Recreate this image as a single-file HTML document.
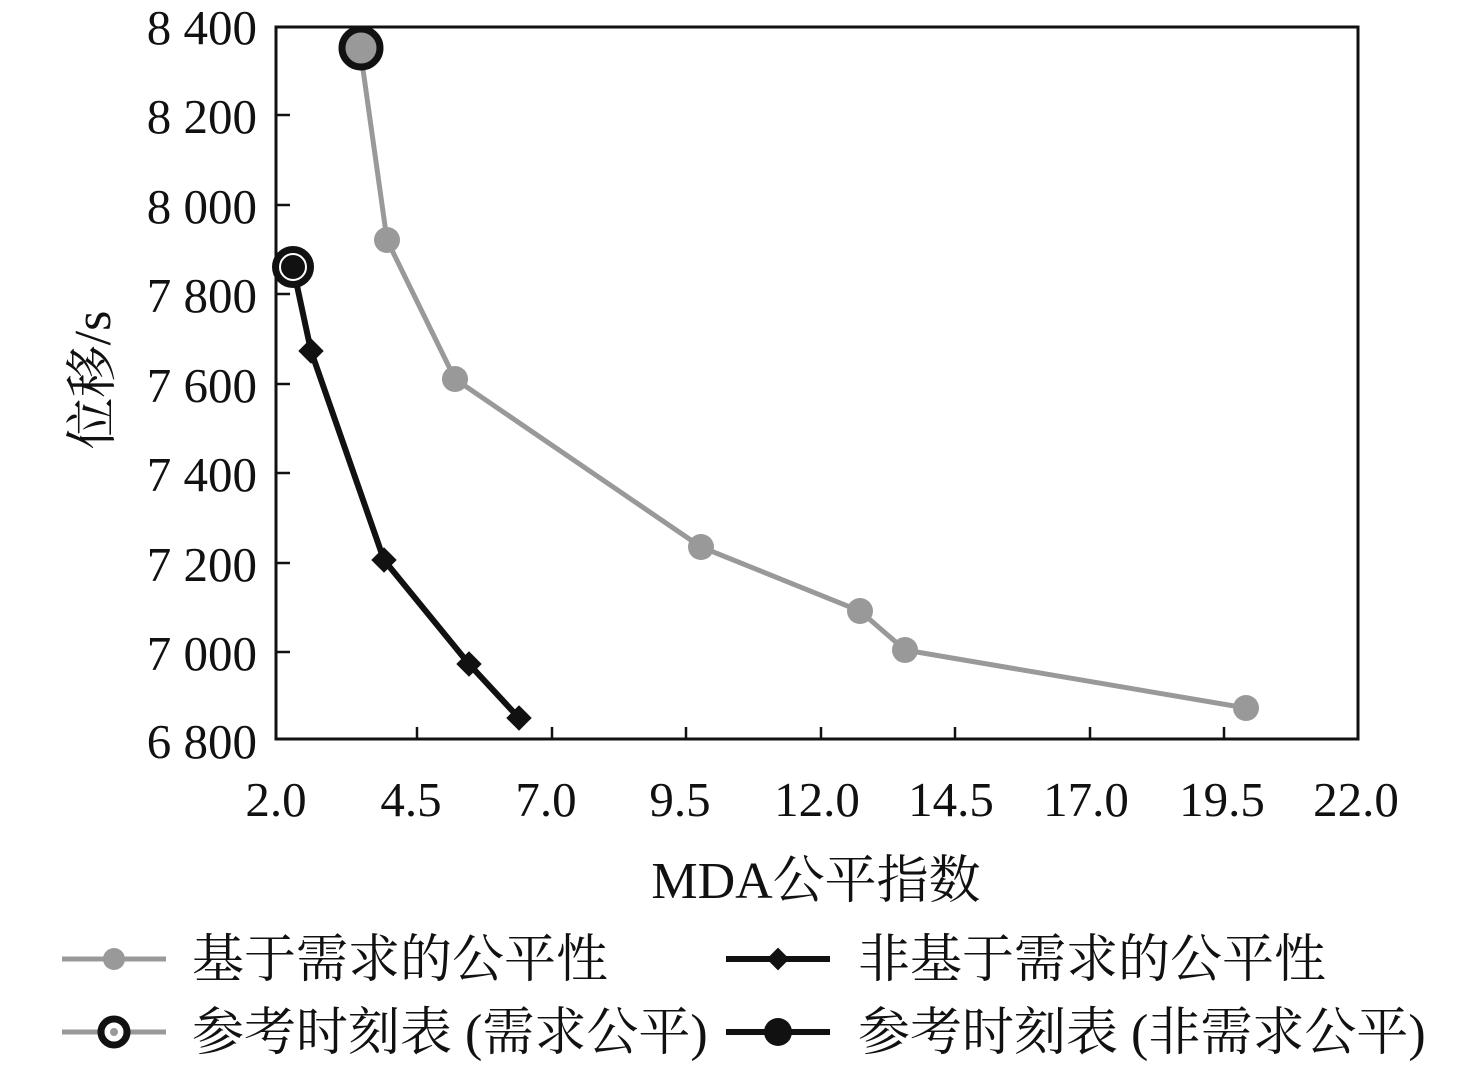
<!DOCTYPE html>
<html><head><meta charset="utf-8"><style>
body{margin:0;background:#fff;}
text{font-family:"Liberation Serif","Noto Serif CJK SC",serif;fill:#111;}
</style></head><body>
<svg width="1476" height="1065" viewBox="0 0 1476 1065" xmlns="http://www.w3.org/2000/svg">
<rect width="1476" height="1065" fill="#fff"/>
<rect x="276" y="27" width="1082" height="712" fill="none" stroke="#111" stroke-width="3"/>
<g stroke="#111" stroke-width="2.5">
<line x1="276" y1="115" x2="290" y2="115"/><line x1="276" y1="205" x2="290" y2="205"/>
<line x1="276" y1="294" x2="290" y2="294"/><line x1="276" y1="384" x2="290" y2="384"/>
<line x1="276" y1="473" x2="290" y2="473"/><line x1="276" y1="563" x2="290" y2="563"/>
<line x1="276" y1="652" x2="290" y2="652"/>
<line x1="417" y1="739" x2="417" y2="727"/><line x1="552" y1="739" x2="552" y2="727"/>
<line x1="686" y1="739" x2="686" y2="727"/><line x1="821" y1="739" x2="821" y2="727"/>
<line x1="955" y1="739" x2="955" y2="727"/><line x1="1090" y1="739" x2="1090" y2="727"/>
<line x1="1224" y1="739" x2="1224" y2="727"/>
</g>
<g font-size="49" text-anchor="end">
<text x="257" y="44">8 400</text><text x="257" y="133">8 200</text><text x="257" y="223">8 000</text>
<text x="257" y="312">7 800</text><text x="257" y="402">7 600</text><text x="257" y="491">7 400</text>
<text x="257" y="581">7 200</text><text x="257" y="670">7 000</text><text x="257" y="758">6 800</text>
</g>
<g font-size="49" text-anchor="middle">
<text x="276" y="816">2.0</text><text x="411" y="816">4.5</text><text x="546" y="816">7.0</text>
<text x="680" y="816">9.5</text><text x="817" y="816">12.0</text><text x="951" y="816">14.5</text>
<text x="1086" y="816">17.0</text><text x="1222" y="816">19.5</text><text x="1356" y="816">22.0</text>
</g>
<text x="816" y="898" font-size="52" text-anchor="middle">MDA公平指数</text>
<text transform="translate(110,380) rotate(-90)" font-size="52" text-anchor="middle">位移/s</text>
<polyline points="360,48 387,240 455,379 701,547 860,611 905,650 1246,708" fill="none" stroke="#999" stroke-width="5"/>
<g fill="#999"><circle cx="387" cy="240" r="13"/><circle cx="455" cy="379" r="13"/><circle cx="701" cy="547" r="13"/><circle cx="860" cy="611" r="13"/><circle cx="905" cy="650" r="13"/><circle cx="1246" cy="708" r="13"/></g>
<polyline points="293,267 311,351 384,560 469,664 519,718" fill="none" stroke="#111" stroke-width="6"/>
<g fill="#111"><rect x="302" y="342" width="18" height="18" transform="rotate(45 311 351)"/><rect x="375" y="551" width="18" height="18" transform="rotate(45 384 560)"/><rect x="460" y="655" width="18" height="18" transform="rotate(45 469 664)"/><rect x="510" y="709" width="18" height="18" transform="rotate(45 519 718)"/></g>
<circle cx="361" cy="48" r="19" fill="#999" stroke="#111" stroke-width="7"/>
<circle cx="293" cy="267" r="18" fill="#111" stroke="#111" stroke-width="6"/>
<circle cx="293" cy="267" r="13" fill="none" stroke="#fff" stroke-width="2"/>
<line x1="62" y1="959" x2="166" y2="959" stroke="#999" stroke-width="5"/><circle cx="114" cy="959" r="11" fill="#999"/>
<text x="192" y="977" font-size="52">基于需求的公平性</text>
<line x1="726" y1="959" x2="830" y2="959" stroke="#111" stroke-width="6"/><rect x="770" y="951" width="16" height="16" fill="#111" transform="rotate(45 778 959)"/>
<text x="858" y="977" font-size="52">非基于需求的公平性</text>
<line x1="62" y1="1032" x2="166" y2="1032" stroke="#999" stroke-width="5"/><circle cx="114" cy="1032" r="13" fill="#fff" stroke="#111" stroke-width="7"/><circle cx="114" cy="1032" r="4" fill="#999"/>
<text x="192" y="1050" font-size="52">参考时刻表 (需求公平)</text>
<line x1="726" y1="1032" x2="830" y2="1032" stroke="#111" stroke-width="6"/><circle cx="778" cy="1032" r="14" fill="#111"/>
<text x="858" y="1050" font-size="52">参考时刻表 (非需求公平)</text>
</svg>
</body></html>
